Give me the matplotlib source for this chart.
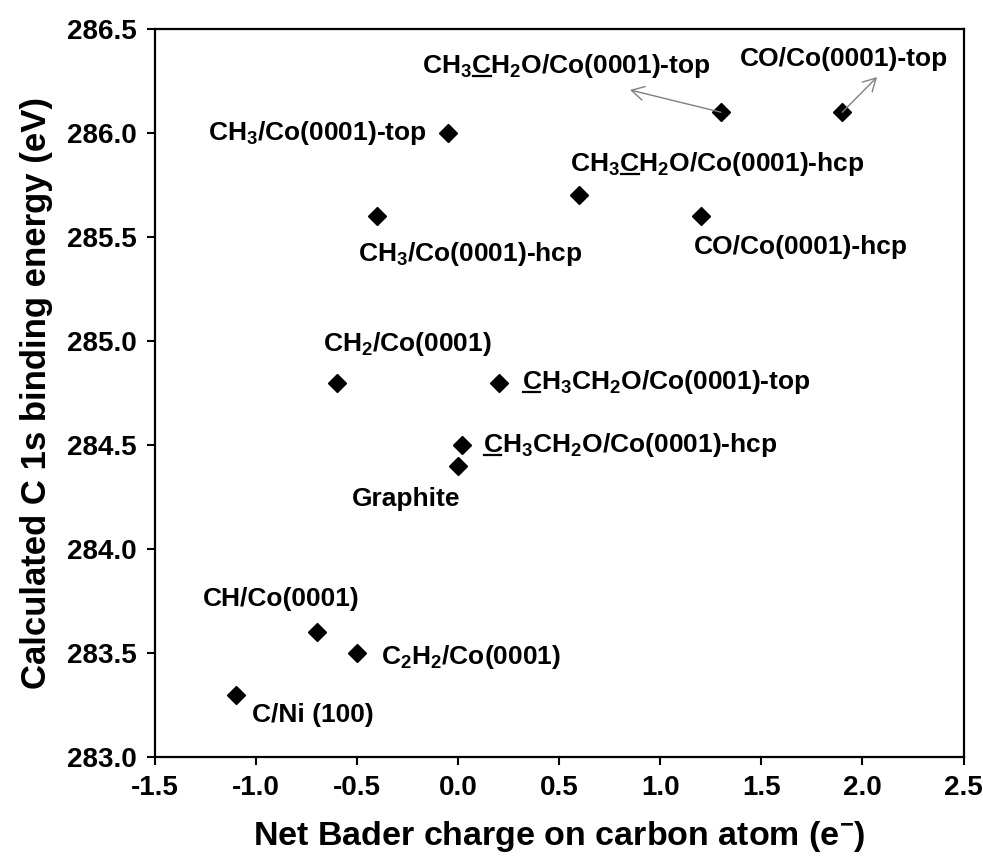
import numpy as np
import matplotlib
matplotlib.use("Agg")
import matplotlib.pyplot as plt

plt.rcParams['font.family'] = ['Liberation Sans', 'DejaVu Sans']
plt.rcParams['font.weight'] = 'bold'
plt.rcParams['axes.labelweight'] = 'bold'
plt.rcParams['mathtext.fontset'] = 'custom'
plt.rcParams['mathtext.rm'] = 'Liberation Sans:bold'
plt.rcParams['mathtext.it'] = 'Liberation Sans:bold'
plt.rcParams['mathtext.bf'] = 'Liberation Sans:bold'
plt.rcParams['mathtext.default'] = 'rm'

# net Bader charge (e-) and calculated C 1s binding energy (eV)
charge = [-1.1, -0.7, -0.5, -0.6, 0.0, 0.02, 0.2, -0.4, -0.05, 0.6, 1.3, 1.2, 1.9]
energy = [283.3, 283.6, 283.5, 284.8, 284.4, 284.5, 284.8, 285.6, 286.0, 285.7, 286.1, 285.6, 286.1]

# label pieces: (before underline, underlined part, after)
labels = [
    ('C/Ni (100)', '', ''),
    ('CH/Co(0001)', '', ''),
    ('C$_2$H$_2$/Co(0001)', '', ''),
    ('CH$_2$/Co(0001)', '', ''),
    ('Graphite', '', ''),
    ('', 'C', 'H$_3$CH$_2$O/Co(0001)-hcp'),
    ('', 'C', 'H$_3$CH$_2$O/Co(0001)-top'),
    ('CH$_3$/Co(0001)-hcp', '', ''),
    ('CH$_3$/Co(0001)-top', '', ''),
    ('CH$_3$', 'C', 'H$_2$O/Co(0001)-hcp'),
    ('CH$_3$', 'C', 'H$_2$O/Co(0001)-top'),
    ('CO/Co(0001)-hcp', '', ''),
    ('CO/Co(0001)-top', '', ''),
]
# label anchor (left, baseline) in data units
label_x = [-1.02, -1.262, -0.382, -0.669, -0.525, 0.123, 0.316, -0.496, -1.238, 0.553, -0.179, 1.167, 1.395]
label_y = [283.168, 283.726, 283.447, 284.952, 284.207, 284.466, 284.769, 285.385, 285.966, 285.817, 286.288, 285.418, 286.322]

# arrows from points to far-away labels
arrow_idx = [10, 12]
arrow_hx = [0.85, 2.072]
arrow_hy = [286.207, 286.269]

fs = 19

fig = plt.figure(figsize=(9.83, 8.59), dpi=100)
ax = fig.add_axes([0.1577, 0.1187, 0.8225, 0.8475])

ax.plot(charge, energy, 'D', color='black', markersize=9, linestyle='none')

ax.set_xlim(-1.5, 2.5)
ax.set_ylim(283.0, 286.5)
ax.set_xticks(np.arange(-1.5, 2.51, 0.5))
ax.set_yticks(np.arange(283.0, 286.51, 0.5))
ax.xaxis.set_major_formatter(matplotlib.ticker.FormatStrFormatter('%.1f'))
ax.yaxis.set_major_formatter(matplotlib.ticker.FormatStrFormatter('%.1f'))
ax.tick_params(direction='out', length=6, width=1.5, labelsize=20, pad=7)
for s in ax.spines.values():
    s.set_linewidth(1.6)

ax.set_xlabel('Net Bader charge on carbon atom (e$^{-}$)', fontsize=24.5, labelpad=13)
ax.set_ylabel('Calculated C 1s binding energy (eV)', fontsize=25, labelpad=10)

for i in range(len(arrow_idx)):
    k = arrow_idx[i]
    ax.annotate('', xy=(arrow_hx[i], arrow_hy[i]), xytext=(charge[k], energy[k]),
                arrowprops=dict(arrowstyle='->,head_length=0.45,head_width=0.25',
                                color='#808080', lw=1.0, shrinkA=0, shrinkB=0,
                                mutation_scale=20))

for (a, b, c), lx, ly in zip(labels, label_x, label_y):
    ax.text(lx, ly, a + b + c, fontsize=fs, ha='left', va='baseline')

fig.canvas.draw()
r = fig.canvas.get_renderer()


def width_of(s, lx, ly):
    if s == '':
        return 0.0
    tmp = ax.text(lx, ly, s, fontsize=fs, ha='left', va='baseline')
    w = tmp.get_window_extent(r).width
    tmp.remove()
    return w


# underline the carbon atom the energy refers to
inv = ax.transData.inverted()
for (a, b, c), lx, ly in zip(labels, label_x, label_y):
    if b == '':
        continue
    x0, y0 = ax.transData.transform((lx, ly))
    w1 = width_of(a, lx, ly)
    w2 = width_of(a + b, lx, ly)
    p1 = inv.transform((x0 + w1 + 1, y0 - 3))
    p2 = inv.transform((x0 + w2 - 1, y0 - 3))
    ax.plot([p1[0], p2[0]], [p1[1], p2[1]], color='black', lw=1.6, clip_on=False)

fig.savefig('out.png', dpi=100)
